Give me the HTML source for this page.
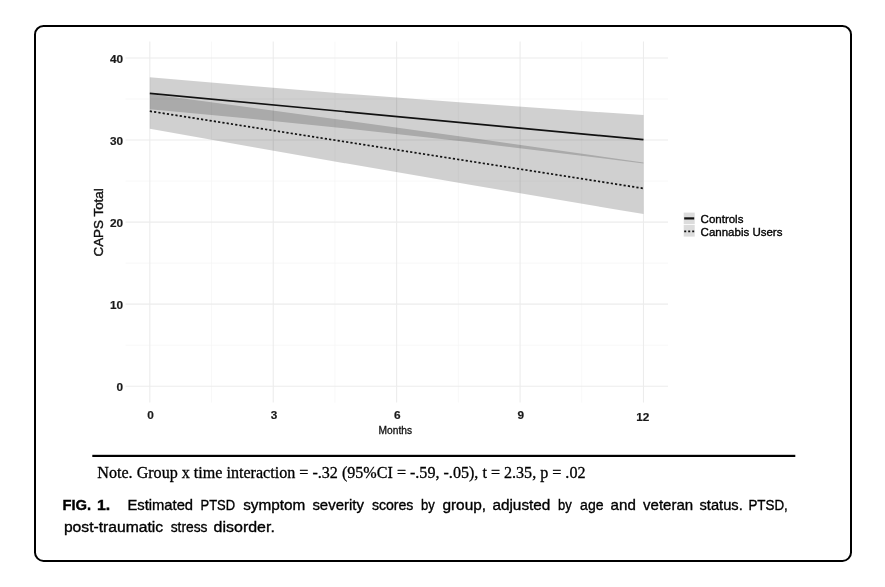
<!DOCTYPE html>
<html lang="en"><head><meta charset="utf-8"><title>FIG. 1. Estimated PTSD symptom severity scores by group</title>
<style>
html,body{margin:0;padding:0;background:#fff;}
body{width:885px;height:587px;overflow:hidden;position:relative;}
svg{position:absolute;left:0;top:0;display:block;}
.sans{font-family:"Liberation Sans",Arial,Helvetica,sans-serif;}
.serif{font-family:"Liberation Serif","Times New Roman",Times,serif;}
.tick{font-family:"Liberation Sans",Arial,Helvetica,sans-serif;font-weight:bold;font-size:11.8px;fill:#1a1a1a;stroke:#1a1a1a;stroke-width:0.2px;}
.cap{font-family:"Liberation Sans",Arial,Helvetica,sans-serif;font-size:15px;fill:#000;stroke:#000;stroke-width:0.35px;}
.capb{font-family:"Liberation Sans",Arial,Helvetica,sans-serif;font-size:15.3px;font-weight:bold;fill:#000;stroke:#000;stroke-width:0.4px;}
</style></head><body>
<svg width="885" height="587" viewBox="0 0 885 587">
<rect x="0" y="0" width="885" height="587" fill="#fff"/>
<rect x="35" y="26.05" width="816" height="534.85" rx="8.5" ry="8.5" fill="#fff" stroke="#000" stroke-width="2"/>
<g style="filter:blur(0.45px)">
<g stroke="#f5f5f5" stroke-width="0.7" fill="none">
<line x1="211.51" y1="41.6" x2="211.51" y2="402.6"/>
<line x1="334.93" y1="41.6" x2="334.93" y2="402.6"/>
<line x1="458.35" y1="41.6" x2="458.35" y2="402.6"/>
<line x1="581.77" y1="41.6" x2="581.77" y2="402.6"/>
<line x1="125.5" y1="345.18" x2="668.0" y2="345.18"/>
<line x1="125.5" y1="263.12" x2="668.0" y2="263.12"/>
<line x1="125.5" y1="181.07" x2="668.0" y2="181.07"/>
<line x1="125.5" y1="99.02" x2="668.0" y2="99.02"/>
</g>
<g stroke="#ececec" stroke-width="1.1" fill="none">
<line x1="149.80" y1="41.6" x2="149.80" y2="402.6"/>
<line x1="273.22" y1="41.6" x2="273.22" y2="402.6"/>
<line x1="396.64" y1="41.6" x2="396.64" y2="402.6"/>
<line x1="520.06" y1="41.6" x2="520.06" y2="402.6"/>
<line x1="643.48" y1="41.6" x2="643.48" y2="402.6"/>
<line x1="125.5" y1="386.20" x2="668.0" y2="386.20"/>
<line x1="125.5" y1="304.15" x2="668.0" y2="304.15"/>
<line x1="125.5" y1="222.10" x2="668.0" y2="222.10"/>
<line x1="125.5" y1="140.05" x2="668.0" y2="140.05"/>
<line x1="125.5" y1="58.00" x2="668.0" y2="58.00"/>
</g>
<path d="M149.80,77.30 Q396.64,99.00 643.48,115.10 L643.48,163.60 Q396.64,131.55 149.80,109.30 Z" fill="#000" fill-opacity="0.185"/>
<path d="M149.80,94.10 Q396.64,126.85 643.48,162.60 L643.48,214.10 Q396.64,173.00 149.80,128.70 Z" fill="#000" fill-opacity="0.185"/>
<line x1="149.80" y1="93.3" x2="643.48" y2="139.7" stroke="#111" stroke-width="1.7"/>
<line x1="149.80" y1="111.2" x2="643.48" y2="188.4" stroke="#111" stroke-width="1.7" stroke-dasharray="2.2 2.12"/>
<text class="tick" x="123.0" y="390.90" text-anchor="end">0</text>
<text class="tick" x="123.0" y="308.85" text-anchor="end">10</text>
<text class="tick" x="123.0" y="226.80" text-anchor="end">20</text>
<text class="tick" x="123.0" y="144.75" text-anchor="end">30</text>
<text class="tick" x="123.0" y="62.70" text-anchor="end">40</text>
<text class="tick" x="150.50" y="418.5" text-anchor="middle">0</text>
<text class="tick" x="273.92" y="418.5" text-anchor="middle">3</text>
<text class="tick" x="397.34" y="418.5" text-anchor="middle">6</text>
<text class="tick" x="520.76" y="418.5" text-anchor="middle">9</text>
<text class="tick" x="642.78" y="421.0" text-anchor="middle">12</text>
<text class="sans" x="395.3" y="433.6" text-anchor="middle" font-size="10.2" fill="#111" stroke="#111" stroke-width="0.3">Months</text>
<text class="sans" transform="translate(103,222.4) rotate(-90) scale(1.057,1)" text-anchor="middle" font-size="12.7" fill="#111" stroke="#111" stroke-width="0.4">CAPS Total</text>
<rect x="683.7" y="212.6" width="11" height="11.6" fill="#dcdcdc"/>
<rect x="683.7" y="225.0" width="11" height="11.6" fill="#dcdcdc"/>
<line x1="684.2" y1="218.4" x2="694.2" y2="218.4" stroke="#111" stroke-width="2.2"/>
<line x1="684.2" y1="231.3" x2="694.2" y2="231.3" stroke="#111" stroke-width="1.8" stroke-dasharray="2 2"/>
<text class="sans" x="700.6" y="222.9" font-size="11.5" fill="#000" stroke="#000" stroke-width="0.35">Controls</text>
<text class="sans" x="700.6" y="235.6" font-size="11.5" fill="#000" stroke="#000" stroke-width="0.35">Cannabis Users</text>
</g>
<rect x="92.3" y="454.8" width="703" height="2.2" fill="#000"/>
<text class="serif" x="97.3" y="477.8" font-size="16.1" fill="#000" stroke="#000" stroke-width="0.3">Note. Group x time interaction = -.32 (95%CI = -.59, -.05), t = 2.35, p = .02</text>
<text class="capb" transform="translate(62.43,510.2) scale(0.9652,1)">FIG.</text>
<text class="capb" transform="translate(96.90,510.2) scale(1.0394,1)">1.</text>
<text class="cap" transform="translate(127.41,510.2) scale(0.9854,1)">Estimated</text>
<text class="cap" transform="translate(200.53,510.2) scale(0.8654,1)">PTSD</text>
<text class="cap" transform="translate(243.20,510.2) scale(1.0224,1)">symptom</text>
<text class="cap" transform="translate(312.40,510.2) scale(0.9966,1)">severity</text>
<text class="cap" transform="translate(371.90,510.2) scale(0.9409,1)">scores</text>
<text class="cap" transform="translate(420.90,510.2) scale(0.8689,1)">by</text>
<text class="cap" transform="translate(442.40,510.2) scale(1.0275,1)">group,</text>
<text class="cap" transform="translate(492.40,510.2) scale(1.0236,1)">adjusted</text>
<text class="cap" transform="translate(558.00,510.2) scale(0.8689,1)">by</text>
<text class="cap" transform="translate(580.10,510.2) scale(0.9358,1)">age</text>
<text class="cap" transform="translate(610.60,510.2) scale(1.0087,1)">and</text>
<text class="cap" transform="translate(643.10,510.2) scale(1.0002,1)">veteran</text>
<text class="cap" transform="translate(699.50,510.2) scale(0.9786,1)">status.</text>
<text class="cap" transform="translate(748.41,510.2) scale(0.8928,1)">PTSD,</text>
<text class="cap" transform="translate(63.90,531.6) scale(1.0457,1)">post-traumatic</text>
<text class="cap" transform="translate(170.70,531.6) scale(0.9214,1)">stress</text>
<text class="cap" transform="translate(213.60,531.6) scale(1.0645,1)">disorder.</text>
</svg>
</body></html>
